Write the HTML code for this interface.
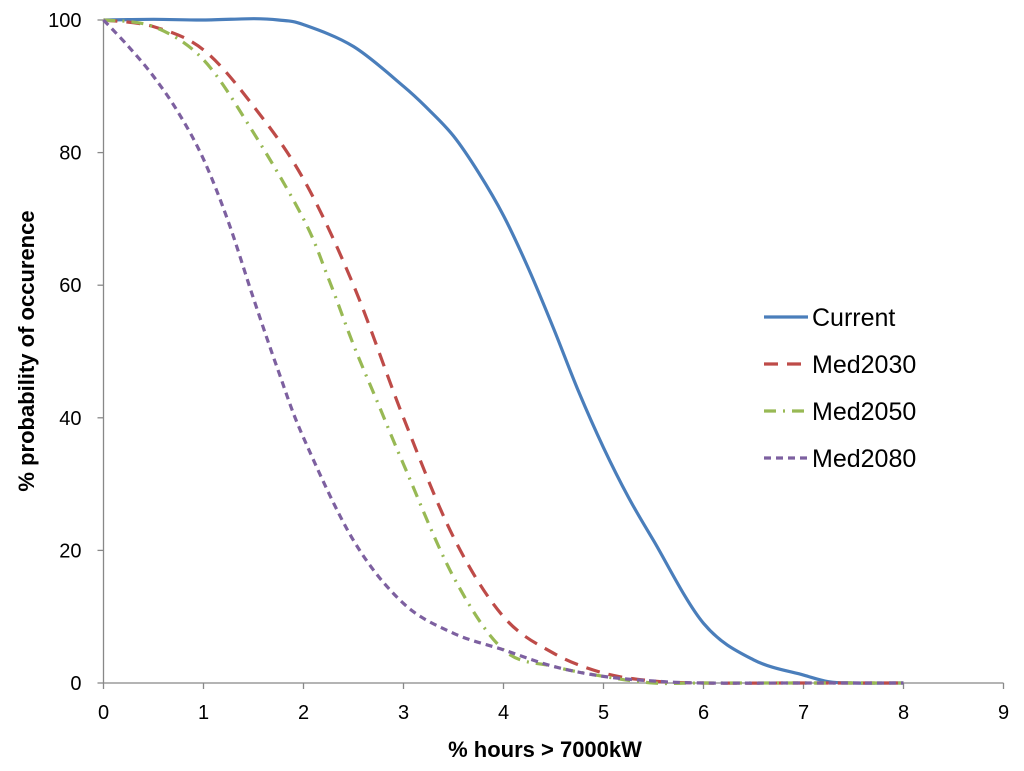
<!DOCTYPE html>
<html><head><meta charset="utf-8"><style>
body{margin:0;background:#fff}
svg{display:block;font-family:"Liberation Sans",Calibri,sans-serif}
</style></head><body>
<svg id="chart" width="1024" height="771">
<g id="axes"></g>
<g id="series"></g>
<g id="legend"></g>
<text x="545" y="757" text-anchor="middle" font-size="22" font-weight="bold">% hours &gt; 7000kW</text>
<text transform="translate(34,351) rotate(-90)" text-anchor="middle" font-size="22" font-weight="bold">% probability of occurence</text>
</svg>
<script>
const xTicks=[0,1,2,3,4,5,6,7,8,9];
const yTicks=[0,20,40,60,80,100];
const currentX=[0,0.5,1,1.5,1.75,2,2.5,3,3.25,3.5,3.75,4,4.25,4.5,4.75,5,5.25,5.5,6,6.5,7,7.25,7.5,8];
const currentY=[100,100.1,100,100.2,100,99.3,96,90,86.5,82.5,77,70.5,62.5,53.5,44,35.5,28,21.5,9,3.5,1.2,0.2,0,0];
const med2030X=[0,0.5,1,1.5,2,2.5,3,3.5,4,4.5,5,5.5,6,7,8];
const med2030Y=[100,99,95.5,87,76,60,40,22,10,4.5,1.5,0.3,0,0,0];
const med2050X=[0,0.5,1,1.5,2,2.25,2.5,2.75,3,3.5,4,4.5,5,5.5,6,7,8];
const med2050Y=[100,99,94,83,70,61,51,42,33,16,5,2.5,1,0,0,0,0];
const med2080X=[0,0.25,0.5,0.75,1,1.25,1.5,1.75,2,2.5,3,3.5,4,4.5,5,5.5,6,7,8];
const med2080Y=[100,96,91.5,86,79,69.5,58,47,37,21.5,12,7.5,5,2.5,1,0.3,0,0,0];
const seriesNames=["Current","Med2030","Med2050","Med2080"];
const colors=["#4a7ebb","#be4b48","#98b954","#7d60a0"];
const dashes=["","14,9","12,7,2,7","7,5"];
const xs=[currentX,med2030X,med2050X,med2080X], ys=[currentY,med2030Y,med2050Y,med2080Y];
const X=v=>103.5+v*100, Y=v=>683-v*6.63;
const NS="http://www.w3.org/2000/svg";
function mk(t,a,p){const e=document.createElementNS(NS,t);for(const k in a)e.setAttribute(k,a[k]);p.appendChild(e);return e;}
const ax=document.getElementById('axes');
let l=mk('line',{x1:X(0),x2:X(9),y1:Y(0),y2:Y(0),stroke:'#888','stroke-width':1.3},ax);

l=mk('line',{x1:X(0),x2:X(0),y1:Y(0),y2:Y(100),stroke:'#888','stroke-width':1.3},ax);

xTicks.forEach(t=>{mk('line',{x1:X(t),x2:X(t),y1:Y(0),y2:Y(0)+6,stroke:'#888','stroke-width':1.3},ax);
const e=mk('text',{x:X(t),y:Y(0)+36,'text-anchor':'middle','font-size':20},ax);e.textContent=t;
});
yTicks.forEach(t=>{mk('line',{x1:X(0)-6,x2:X(0),y1:Y(t),y2:Y(t),stroke:'#888','stroke-width':1.3},ax);
const e=mk('text',{x:X(0)-22,y:Y(t)+7,'text-anchor':'end','font-size':20},ax);e.textContent=t;
});
function path(px,py){const p=px.map((v,i)=>[X(v),Y(py[i])]);let d='M'+p[0];
for(let i=0;i<p.length-1;i++){const p0=p[i-1]||p[i],p1=p[i],p2=p[i+1],p3=p[i+2]||p2;
const c1=[p1[0]+(p2[0]-p0[0])/6,p1[1]+(p2[1]-p0[1])/6],c2=[p2[0]-(p3[0]-p1[0])/6,p2[1]-(p3[1]-p1[1])/6];
d+=' C'+c1+' '+c2+' '+p2;}return d;}
const sg=document.getElementById('series'),lg=document.getElementById('legend');
seriesNames.forEach((n,i)=>{const e=mk('path',{d:path(xs[i],ys[i]),fill:'none',stroke:colors[i],'stroke-width':3.2,'stroke-dasharray':dashes[i]},sg);

const y=317+i*47;
const g=mk('g',{},lg);
mk('line',{x1:764,x2:808,y1:y,y2:y,stroke:colors[i],'stroke-width':3.2,'stroke-dasharray':dashes[i]},g);
const t=mk('text',{x:812,y:y+9,'font-size':25},g);t.textContent=n;});
</script>
</body></html>
